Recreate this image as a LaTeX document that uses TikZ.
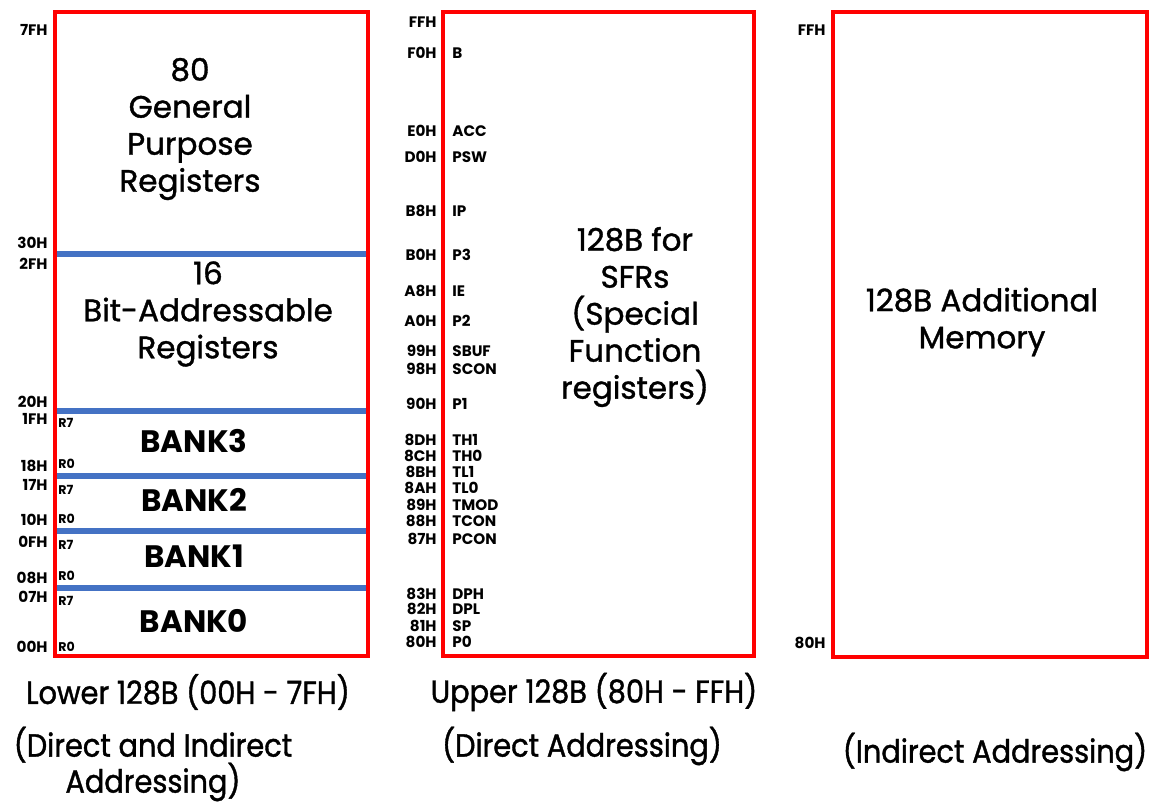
\documentclass[tikz,border=0pt]{standalone}
\usepackage{fontspec}
\setmainfont{Poppins}
\newfontfamily\medfont[FakeBold=1.2]{Poppins}
\newfontfamily\narrowfont[FakeStretch=0.9, FakeBold=1.2]{Poppins}
\definecolor{memred}{HTML}{FF0000}
\definecolor{divblue}{HTML}{4472C4}
\tikzset{
  membox/.style={draw=memred, line width=2pt},
  divider/.style={draw=divblue, line width=3pt},
  addr/.style={font=\fontsize{7.6}{8}\selectfont\bfseries, anchor=east, inner sep=0pt},
  reg/.style={font=\fontsize{7.6}{8}\selectfont\bfseries, anchor=west, inner sep=0pt},
  rn/.style={font=\fontsize{6.3}{7}\selectfont\bfseries, anchor=west, inner sep=0pt},
  blocktext/.style={font=\medfont\fontsize{15.5}{18.5}\selectfont, align=center, inner sep=0pt},
  bank/.style={font=\fontsize{15.5}{18.5}\selectfont\bfseries, inner sep=0pt},
  caption/.style={font=\narrowfont\fontsize{16}{18}\selectfont, align=center, inner sep=0pt},
}
\begin{document}
\begin{tikzpicture}[x=0.5pt, y=-0.5pt]
\useasboundingbox (0,0) rectangle (1157,805);
% lower 128 bytes
\foreach \y in {254,411,476,531,588} \draw[divider] (57,\y) -- (366,\y);
\draw[membox] (55,12) rectangle (368,656);
\foreach \a/\y in {7FH/30, 30H/243, 2FH/264, 20H/402, 1FH/419, 18H/466, 17H/485,
                   10H/520, 0FH/542, 08H/578, 07H/597, 00H/647}
  \node[addr] (l\a) at (48,\y) {\a};
\foreach \r/\y [count=\i] in {R7/423, R0/464, R7/490, R0/519, R7/545, R0/576, R7/601, R0/647}
  \node[rn] (rn\i) at (58,\y) {\r};
\node[blocktext] (gpr) at (190,129) {80\\General\\Purpose\\Registers};
\node[blocktext] (bitreg) at (208,314) {16\\Bit-Addressable\\Registers};
\foreach \b/\y in {3/441, 2/500, 1/556, 0/621}
  \node[bank] (bank\b) at (194,\y) {BANK\b};
% upper 128 bytes (SFRs)
\draw[membox] (443,12) rectangle (754,656);
\node[addr] (aFFH) at (437,22) {FFH};
\foreach \a/\r/\y in {F0H/B/53, E0H/ACC/131, D0H/PSW/157, B8H/IP/211, B0H/P3/255,
                      A8H/IE/291, A0H/P2/321, 99H/SBUF/351, 98H/SCON/369, 90H/P1/404,
                      8DH/TH1/440, 8CH/TH0/456, 8BH/TL1/472, 8AH/TL0/488, 89H/TMOD/505,
                      88H/TCON/521, 87H/PCON/539, 83H/DPH/594, 82H/DPL/609, 81H/SP/626, 80H/P0/642}
{
  \node[addr] (a\a) at (437,\y) {\a};
  \node[reg] (s\a) at (452,\y) {\r};
}
\node[blocktext] (sfr) at (635,317) {128B for\\SFRs\\(Special\\Function\\registers)};
% additional memory
\draw[membox] (833,12) rectangle (1147,657);
\node[addr] (xFFH) at (826,30) {FFH};
\node[addr] (x80H) at (826,643) {80H};
\node[blocktext] (addmem) at (982,322) {128B Additional\\Memory};
% captions
\node[caption] (lowcap) at (188,692) {Lower 128B (00H - 7FH)};
\node[caption] (upcap) at (594,692) {Upper 128B (80H - FFH)};
\node[caption] (lowmode) at (153,764) {(Direct and Indirect\\Addressing)};
\node[caption] (upmode) at (582,746) {(Direct Addressing)};
\node[caption] (addmode) at (995,752) {(Indirect Addressing)};
\end{tikzpicture}
\end{document}
